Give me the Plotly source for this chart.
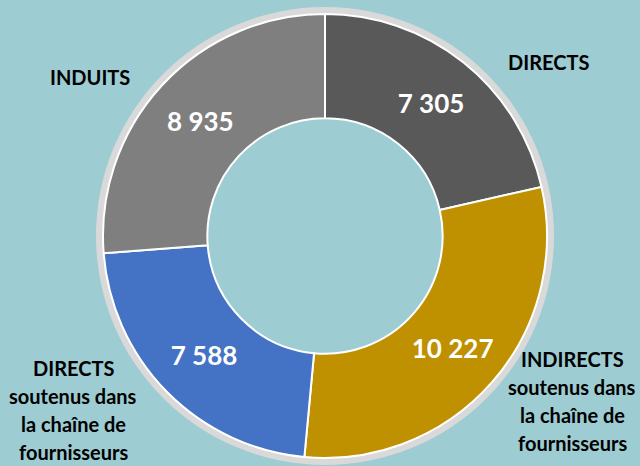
import plotly.graph_objects as go

categories = ["DIRECTS", "INDIRECTS soutenus dans la chaîne de fournisseurs",
              "DIRECTS soutenus dans la chaîne de fournisseurs", "INDUITS"]
values = [7305, 10227, 7588, 8935]
colors = ["#595959", "#BF9000", "#4472C4", "#7F7F7F"]

# outside label lines: (lines, x center px, first-line y px)
label_lines = [
    (["INDUITS"], 90, 77),
    (["DIRECTS"], 548, 62),
    (["DIRECTS", "soutenus dans", "la chaîne de", "fournisseurs"], 73, 368),
    (["INDIRECTS", "soutenus dans", "la chaîne de", "fournisseurs"], 572, 359),
]

W, H = 640, 466
cx, cy, r = 325, 236, 222
ring = 7


def dom(rad):
    return dict(x=[(cx - rad) / W, (cx + rad) / W],
                y=[(H - (cy + rad)) / H, (H - (cy - rad)) / H])


fig = go.Figure()
fig.add_trace(go.Pie(values=[1], marker=dict(colors=["#D9D9D9"], line=dict(width=0)),
                     hole=r / (r + ring), domain=dom(r + ring), textinfo="none",
                     hoverinfo="skip", showlegend=False, sort=False))
fig.add_trace(go.Pie(labels=categories, values=values, sort=False, direction="clockwise",
                     rotation=0, hole=0.53, domain=dom(r),
                     marker=dict(colors=colors, line=dict(color="white", width=2)),
                     texttemplate="%{value:,}", textposition="inside",
                     insidetextorientation="horizontal",
                     textfont=dict(family="Lato", size=26, color="white", weight="bold"),
                     showlegend=False))

for lines, x, y0 in label_lines:
    for i, t in enumerate(lines):
        fig.add_annotation(text=t, x=x / W, y=1 - (y0 + i * 28) / H, xref="paper", yref="paper",
                           showarrow=False, xanchor="center", yanchor="middle",
                           font=dict(family="Lato", size=20, color="black", weight="bold"))

fig.update_layout(width=W, height=H, margin=dict(l=0, r=0, t=0, b=0),
                  paper_bgcolor="#9DCCD2", plot_bgcolor="#9DCCD2", separators=", ")
fig.write_html("out.html", config={"displayModeBar": False},
               post_script="document.body.style.margin='0';")
